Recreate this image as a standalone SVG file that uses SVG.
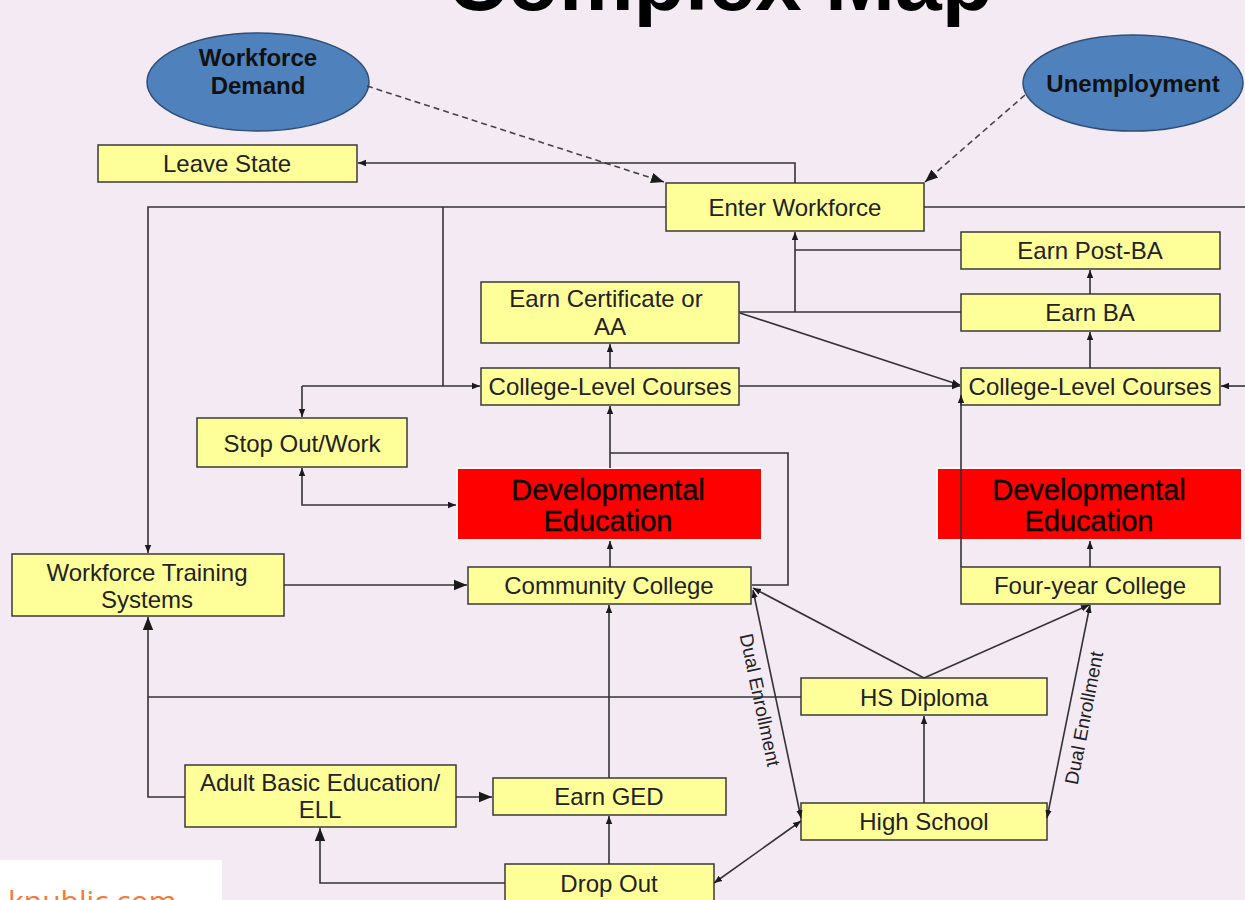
<svg xmlns="http://www.w3.org/2000/svg" width="1245" height="900" viewBox="0 0 1245 900">
<style>
.bx{fill:#FFFF99;stroke:#3a3a3a;stroke-width:1.5}
.rd{fill:#FF0000;stroke:#f8f8f8;stroke-width:2}
.el{fill:#4F81BD;stroke:#2f4f75;stroke-width:1.5}
.t{font-family:"Liberation Sans",Arial,sans-serif;font-size:24px;fill:#222;text-anchor:middle;dominant-baseline:central}
.tb{font-family:"Liberation Sans",Arial,sans-serif;font-size:24px;font-weight:bold;fill:#111;text-anchor:middle;dominant-baseline:central}
.tr{font-family:"Liberation Sans",Arial,sans-serif;font-size:29px;fill:#0a0a0a;text-anchor:middle;dominant-baseline:central;stroke:#0a0a0a;stroke-width:0.4}
.lb{font-family:"Liberation Sans",Arial,sans-serif;font-size:19px;fill:#222;text-anchor:middle;dominant-baseline:central}
.c{fill:none;stroke:#333;stroke-width:1.6}
.d{fill:none;stroke:#444;stroke-width:1.6;stroke-dasharray:6,4}
</style>
<defs>
<marker id="a" viewBox="0 0 10 10" refX="10" refY="5" markerWidth="8" markerHeight="8" markerUnits="userSpaceOnUse" orient="auto-start-reverse"><path d="M0,1 L10,5 L0,9 z" fill="#1a1a1a"/></marker>
<marker id="b" viewBox="0 0 10 10" refX="10" refY="5" markerWidth="13" markerHeight="13" markerUnits="userSpaceOnUse" orient="auto-start-reverse"><path d="M0,1 L10,5 L0,9 z" fill="#1a1a1a"/></marker>
</defs>
<rect x="0" y="0" width="1245" height="900" fill="#F4EAF4"/>
<text x="720" y="10" font-family="Liberation Sans,Arial,sans-serif" font-size="84" font-weight="bold" fill="#000" text-anchor="middle">Complex Map</text>

<g id="workforce-demand"><ellipse class="el" cx="258" cy="82" rx="111" ry="49"/><text class="tb" x="258" y="57">Workforce</text><text class="tb" x="258" y="85">Demand</text></g>
<g id="unemployment"><ellipse class="el" cx="1133" cy="83" rx="110" ry="48"/><text class="tb" x="1133" y="83">Unemployment</text></g>
<g id="leave-state"><rect class="bx" x="98" y="145" width="259" height="37"/><text class="t" x="227" y="163">Leave State</text></g>
<g id="enter-workforce"><rect class="bx" x="666" y="183" width="258" height="48"/><text class="t" x="795" y="207">Enter Workforce</text></g>
<g id="earn-post-ba"><rect class="bx" x="961" y="232" width="259" height="37"/><text class="t" x="1090" y="250">Earn Post-BA</text></g>
<g id="earn-ba"><rect class="bx" x="961" y="294" width="259" height="37"/><text class="t" x="1090" y="312">Earn BA</text></g>
<g id="earn-certificate"><rect class="bx" x="481" y="282" width="258" height="61"/><text class="t" x="606" y="298">Earn Certificate or</text><text class="t" x="610" y="326">AA</text></g>
<g id="college-level-left"><rect class="bx" x="481" y="368" width="258" height="37"/><text class="t" x="610" y="386">College-Level Courses</text></g>
<g id="college-level-right"><rect class="bx" x="961" y="368" width="259" height="37"/><text class="t" x="1090" y="386">College-Level Courses</text></g>
<g id="stop-out"><rect class="bx" x="197" y="418" width="210" height="49"/><text class="t" x="302" y="443">Stop Out/Work</text></g>
<g id="dev-ed-left"><rect class="rd" x="457" y="468" width="305" height="72"/><text class="tr" x="608" y="490">Developmental</text><text class="tr" x="608" y="521">Education</text></g>
<g id="dev-ed-right"><rect class="rd" x="937" y="468" width="305" height="72"/><text class="tr" x="1089" y="490">Developmental</text><text class="tr" x="1089" y="521">Education</text></g>
<g id="workforce-training"><rect class="bx" x="12" y="554" width="272" height="62"/><text class="t" x="147" y="572">Workforce Training</text><text class="t" x="147" y="599">Systems</text></g>
<g id="community-college"><rect class="bx" x="468" y="567" width="283" height="37"/><text class="t" x="609" y="585">Community College</text></g>
<g id="four-year-college"><rect class="bx" x="961" y="567" width="259" height="37"/><text class="t" x="1090" y="585">Four-year College</text></g>
<g id="hs-diploma"><rect class="bx" x="801" y="678" width="246" height="37"/><text class="t" x="924" y="697">HS Diploma</text></g>
<g id="adult-basic"><rect class="bx" x="185" y="765" width="271" height="62"/><text class="t" x="320" y="782">Adult Basic Education/</text><text class="t" x="320" y="809">ELL</text></g>
<g id="earn-ged"><rect class="bx" x="493" y="778" width="233" height="37"/><text class="t" x="609" y="796">Earn GED</text></g>
<g id="high-school"><rect class="bx" x="801" y="803" width="246" height="37"/><text class="t" x="924" y="821">High School</text></g>
<g id="drop-out"><rect class="bx" x="505" y="864" width="209" height="44"/><text class="t" x="609" y="883">Drop Out</text></g>

<g id="connectors">
<path class="d" d="M367,86 L664,182" marker-end="url(#b)"/>
<path class="d" d="M1025,95 L925,182" marker-end="url(#b)"/>
<path class="c" d="M795,183 V163 H358" marker-end="url(#a)"/>
<path class="c" d="M666,207 H148 V553" marker-end="url(#a)"/>
<path class="c" d="M443,207 V386"/>
<path class="c" d="M302,386 H480" marker-end="url(#a)"/>
<path class="c" d="M302,386 V417" marker-end="url(#a)"/>
<path class="c" d="M924,207 H1245"/>
<path class="c" d="M961,250 H795"/>
<path class="c" d="M961,312 H739"/>
<path class="c" d="M795,312 V232" marker-end="url(#a)"/>
<path class="c" d="M740,313 L960,385" marker-end="url(#a)"/>
<path class="c" d="M739,386 H960" marker-end="url(#a)"/>
<path class="c" d="M610,368 V344" marker-end="url(#a)"/>
<path class="c" d="M1090,368 V332" marker-end="url(#a)"/>
<path class="c" d="M1090,294 V270" marker-end="url(#a)"/>
<path class="c" d="M1245,386 H1221" marker-end="url(#a)"/>
<path class="c" d="M610,468 V406" marker-end="url(#a)"/>
<path class="c" d="M610,453 H788 V585 H752"/>
<path class="c" d="M610,567 V541" marker-end="url(#a)"/>
<path class="c" d="M302,468 V505 H456" marker-start="url(#a)" marker-end="url(#a)"/>
<path class="c" d="M284,585 H467" marker-end="url(#b)"/>
<path class="c" d="M1090,567 V541" marker-end="url(#a)"/>
<path class="c" d="M961,567 V395" marker-end="url(#a)"/>
<path class="c" d="M924,678 L753,588" marker-end="url(#a)"/>
<path class="c" d="M924,678 L1089,605" marker-end="url(#a)"/>
<path class="c" d="M801,697 H148"/>
<path class="c" d="M185,797 H148 V617" marker-end="url(#b)"/>
<path class="c" d="M924,803 V716" marker-end="url(#a)"/>
<path class="c" d="M801,818 L753,590" marker-start="url(#a)" marker-end="url(#a)"/>
<path class="c" d="M1047,818 L1090,605" marker-start="url(#a)" marker-end="url(#a)"/>
<path class="c" d="M456,797 H492" marker-end="url(#b)"/>
<path class="c" d="M609,778 V605" marker-end="url(#a)"/>
<path class="c" d="M609,864 V816" marker-end="url(#a)"/>
<path class="c" d="M505,883 H320 V828" marker-end="url(#b)"/>
<path class="c" d="M714,883 L801,821" marker-start="url(#a)" marker-end="url(#a)"/>
<text class="lb" transform="translate(760,700) rotate(78)">Dual Enrollment</text>
<text class="lb" transform="translate(1084,718) rotate(-79)">Dual Enrollment</text>
</g>

<rect x="0" y="860" width="222" height="40" fill="#ffffff"/>
<text x="8" y="912" font-family="Open Sans,sans-serif" font-size="30" fill="#F27A35">knublic.com</text>
</svg>
